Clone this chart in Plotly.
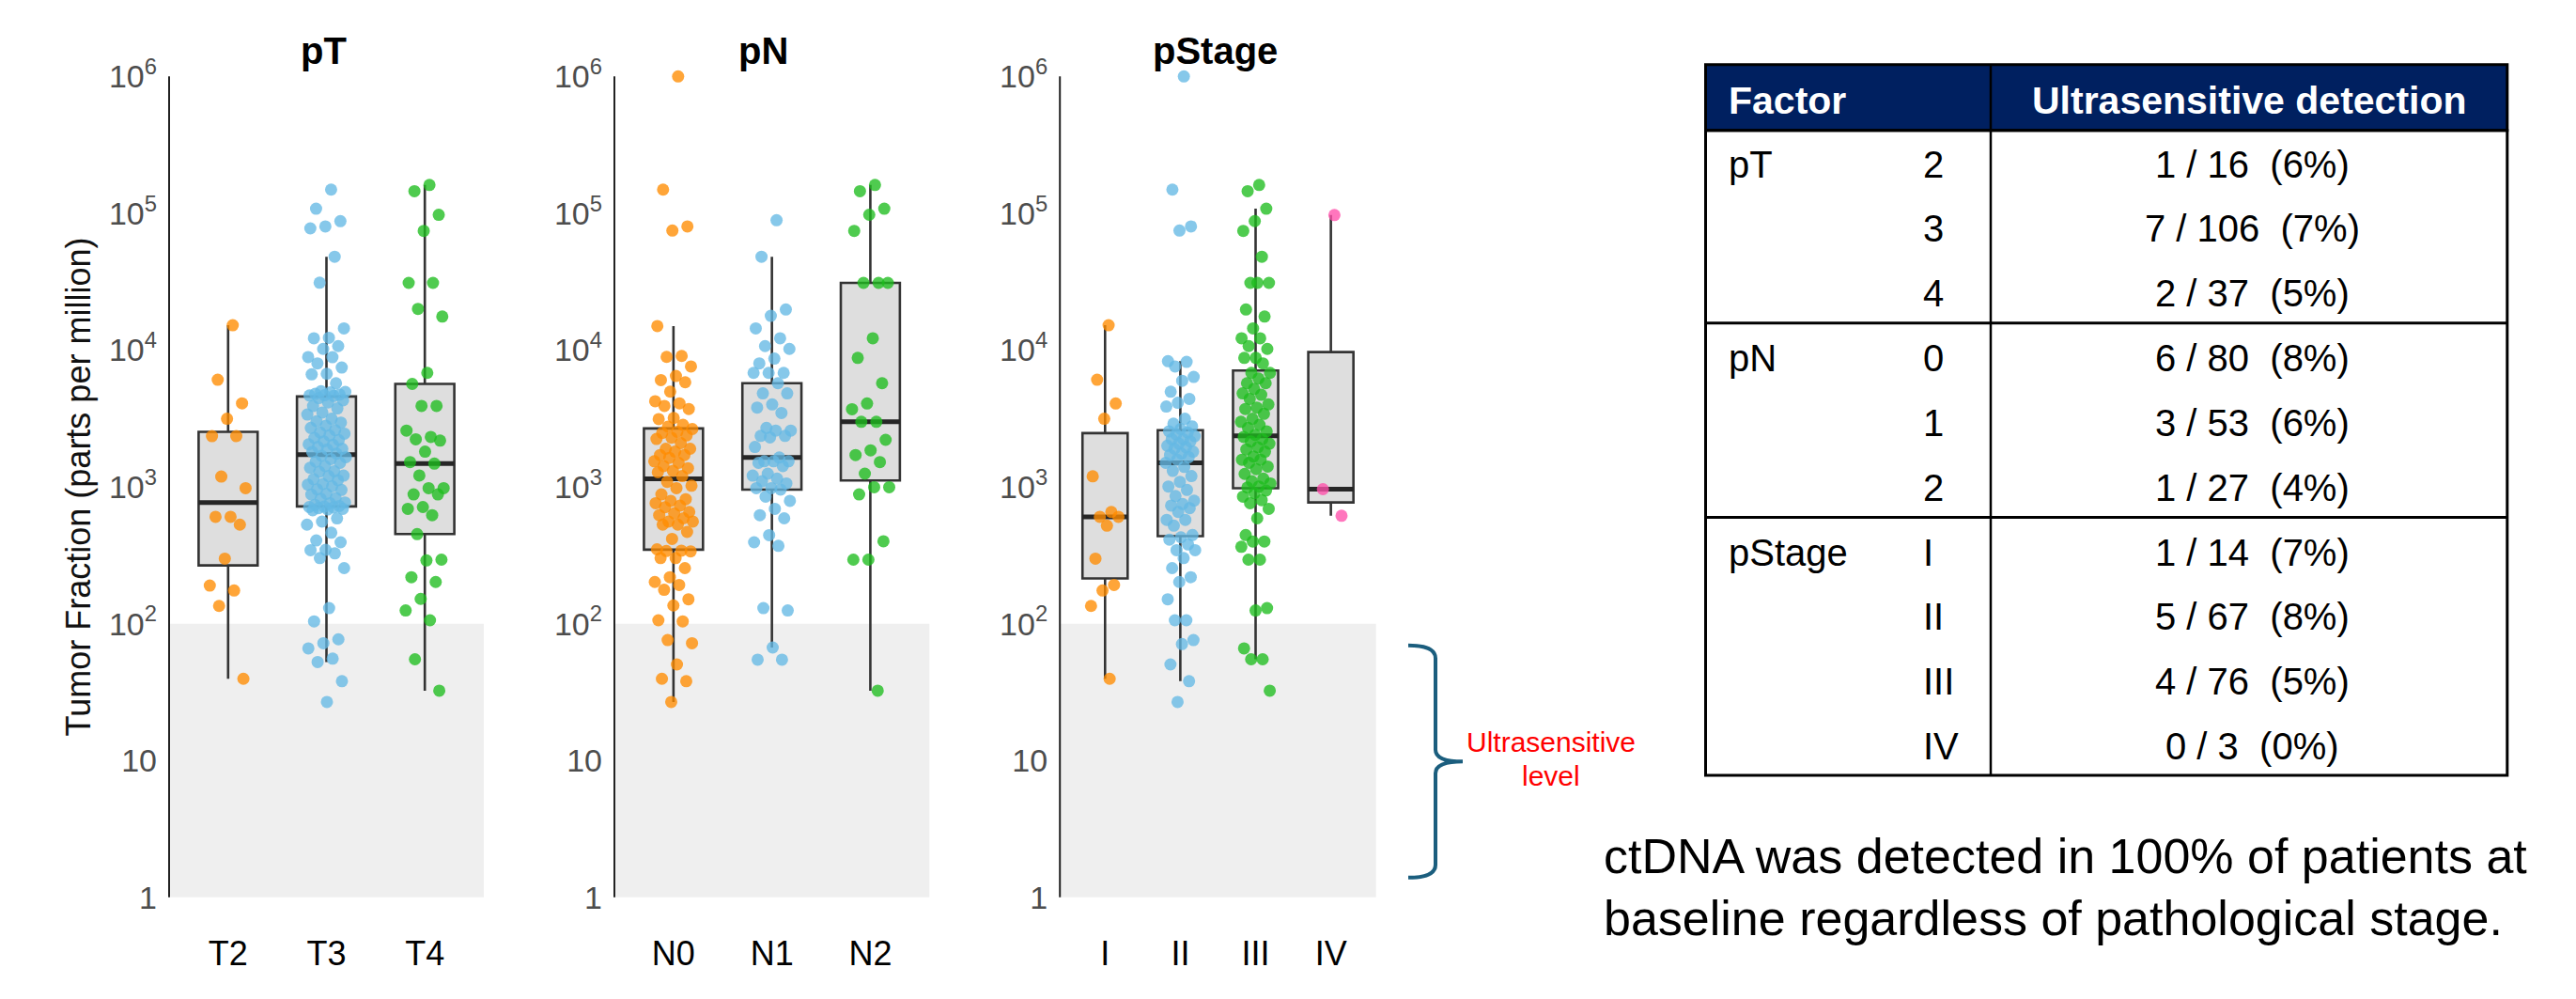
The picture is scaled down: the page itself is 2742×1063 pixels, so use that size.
import numpy as np
import plotly.graph_objects as go

W, H = 2742, 1063

# ---------------- data (tumor fraction, parts per million) ----------------
pt_labels = ["T2", "T3", "T4"]
pn_labels = ["N0", "N1", "N2"]
ps_labels = ["I", "II", "III", "IV"]

T2 = [15200, 6070, 4080, 3150, 2350, 2350, 1190, 980, 605, 605, 530, 299, 190, 175, 135, 39.6]
T3 = [149000, 108000, 87600, 80100, 77600, 48100, 31100, 14400, 12300, 12200, 10700, 10200, 8900, 8870,
      8000, 7460, 6710, 6650, 5730, 5010, 4950, 4900, 4790, 4730, 4680, 4660, 4620,
      4460, 4300, 4150, 3900, 3750, 3500, 3380, 3150, 3020, 2950, 2800, 2700, 2600, 2500, 2450, 2380,
      2280, 2200, 2150, 2050, 2030, 1960, 1900, 1880, 1800, 1750,
      1690, 1650, 1600, 1530, 1500, 1420, 1380, 1300, 1290, 1210, 1200, 1140, 1120, 1050, 1040, 1010,
      960, 950, 890, 880, 830, 820, 770, 760, 740, 725,
      718, 713, 708, 700, 692, 684, 675, 589, 558, 530, 463, 406, 394, 347, 345, 327, 302, 255, 130,
      104, 77, 72, 66, 55.6, 52.5, 38, 26.8]
T4 = [161000, 145000, 97500, 74300, 31000, 31000, 20000, 17600, 6820, 5660, 3910, 3910, 2580, 2320,
      2230, 2180, 1810, 1520, 1480, 1213, 980, 980, 881, 881, 713, 692, 622, 452, 294, 290, 219, 202,
      152, 125, 106, 55, 32.4]

N0 = [1000000, 149000, 80100, 74700, 15000, 9060, 8920, 7590, 6470, 6040, 5820, 4970, 4230, 4080, 3910,
      3710, 3190, 3130, 2840, 2760,
      2650, 2530, 2480, 2380, 2290, 2240, 2090, 1900, 1900, 1810, 1710, 1710, 1630, 1540, 1500, 1420,
      1370, 1310, 1280, 1200,
      1090, 1020, 980, 881, 813, 791, 760, 730, 711, 656, 640, 622, 590, 559, 559, 530, 530, 469, 417, 350,
      342, 340, 338, 302, 302, 255, 219, 202, 192, 177, 151, 136, 106, 104, 76, 72, 50.4, 39.6, 38, 26.8]
N1 = [89000, 48100, 19800, 17800, 14400, 12200, 10700, 10200, 8670, 8000, 6820, 6820, 6820,
      5730, 4830, 4830, 4010, 3800, 3470, 2700, 2580, 2580, 2360, 2360, 2300, 1960, 1640, 1540, 1540,
      1540, 1500, 1420, 1250, 1210, 1150, 1100, 1060, 980, 980, 955,
      850, 791, 692, 622, 590, 444, 394, 371, 130, 125, 67, 54.6, 54.6]
N2 = [161000, 145000, 108000, 97600, 74300, 31000, 31000, 31000, 12200, 8770, 5730, 4070, 3700, 2990,
      2990, 2210, 1850, 1710, 1520, 1250, 995, 995, 881, 401, 294, 294, 32.4]

S1 = [15200, 6070, 4070, 3150, 1195, 656, 605, 605, 521, 299, 192, 175, 135, 39.6]
S2 = [1000000, 149000, 80100, 74700, 8300, 8200, 7590, 6370, 5970, 4960, 4400, 4120, 3870, 3150, 2900,
      2770, 2650,
      2550, 2500, 2420, 2350, 2230, 2230, 2150, 2070, 2000, 1950, 1900, 1810, 1750, 1710, 1650, 1580,
      1500,
      1400, 1310, 1200, 1090, 1007, 950, 857, 793, 750, 731, 700, 656, 574, 574, 521, 445,
      428, 412, 380, 345, 345, 302, 255, 219, 202, 151, 106, 106, 76, 71, 50.4, 38, 26.8]
S3 = [161000, 145000, 108000, 87700, 74300, 48100, 31000, 31000, 31000, 19800, 17600, 14400, 12200,
      12200, 10700, 10200, 8770, 8770, 8000,
      6820, 6820, 6200, 5730, 5730, 5200, 4830, 4710, 4400, 4010, 3800, 3710, 3420, 3150, 2990, 2840,
      2700, 2550, 2400,
      2320, 2230, 2150, 2070, 1950, 1880, 1810, 1670, 1580, 1580, 1500, 1410, 1350, 1245, 1150, 1100,
      1060, 1007, 990,
      940, 900, 850, 800, 760, 692, 590, 445, 399, 399, 365, 294, 294, 130, 125, 66, 55, 55, 32.4]
S4 = [97000, 963, 615]

y_tick_vals = [1, 10, 100, 1000, 10000, 100000, 1000000]
y_tick_text = ["1", "10", "10<sup>2</sup>", "10<sup>3</sup>", "10<sup>4</sup>", "10<sup>5</sup>", "10<sup>6</sup>"]
ultrasensitive_limit = 100

# table
tbl_groups = ["pT", "pN", "pStage"]
tbl_levels = [["2", "3", "4"], ["0", "1", "2"], ["I", "II", "III", "IV"]]
tbl_detected = [[1, 7, 2], [6, 3, 1], [1, 5, 4, 0]]
tbl_total = [[16, 106, 37], [80, 53, 27], [14, 67, 76, 3]]
tbl_pct = [[6, 7, 5], [8, 6, 4], [7, 8, 5, 0]]

panels = [
    dict(title="pT", cats=pt_labels, groups=[T2, T3, T4]),
    dict(title="pN", cats=pn_labels, groups=[N0, N1, N2]),
    dict(title="pStage", cats=ps_labels, groups=[S1, S2, S3, S4]),
]

# ---------------- styling / layout constants ----------------
FONT = "Liberation Sans, Arial, sans-serif"
point_colors = ["rgba(255,140,0,0.78)", "rgba(100,185,228,0.78)",
                "rgba(30,188,30,0.78)", "rgba(255,80,170,0.78)"]
panel_px = [(180.0, 515.0), (654.0, 989.3), (1128.2, 1464.7)]
title_px = [345, 812, 1293.6]
plot_top_px, plot_bot_px = 59.0, 971.45


def px(x):
    return x / W


def py(y):
    return 1 - y / H


def box_stats(vals):
    lv = np.log10(np.asarray(vals, dtype=float))
    q1, med, q3 = np.percentile(lv, [25, 50, 75])
    iqr = q3 - q1
    lo = lv[lv >= q1 - 1.5 * iqr].min()
    hi = lv[lv <= q3 + 1.5 * iqr].max()
    return [10 ** v for v in (q1, med, q3, lo, hi)]


def jitter(n, half=0.2):
    k = np.arange(1, n + 1)
    u = (k * 0.6180339887498949) % 1.0
    return (u - 0.5) * 2 * half


fig = go.Figure()
shapes = []
annotations = []

for p, panel in enumerate(panels):
    xa = "x" if p == 0 else f"x{p + 1}"
    ya = "y" if p == 0 else f"y{p + 1}"
    n = len(panel["cats"])
    for i, vals in enumerate(panel["groups"]):
        q1, med, q3, lo, hi = box_stats(vals)
        fig.add_trace(go.Box(
            x=[i], q1=[q1], median=[med], q3=[q3], lowerfence=[lo], upperfence=[hi],
            width=0.6, fillcolor="#dedede", line=dict(color="#333333", width=2.6),
            whiskerwidth=0, boxpoints=False, xaxis=xa, yaxis=ya, hoverinfo="skip"))
        fig.add_trace(go.Scatter(
            x=[i - 0.3, i + 0.3], y=[med, med], mode="lines",
            line=dict(color="#262626", width=5), xaxis=xa, yaxis=ya, hoverinfo="skip"))
        fig.add_trace(go.Scatter(
            x=i + jitter(len(vals)), y=vals, mode="markers",
            marker=dict(size=13, color=point_colors[i], line=dict(width=0)),
            xaxis=xa, yaxis=ya))

    x0, x1 = panel_px[p]
    fig.layout[("xaxis" if p == 0 else f"xaxis{p + 1}")] = dict(
        domain=[px(x0), px(x1)], range=[-0.6, n - 0.4], tickvals=list(range(n)),
        ticktext=panel["cats"], showgrid=False, zeroline=False, showline=False, ticks="",
        tickfont=dict(size=36, color="black", family=FONT), ticklabelstandoff=26,
        anchor=ya, fixedrange=True)
    fig.layout[("yaxis" if p == 0 else f"yaxis{p + 1}")] = dict(
        domain=[py(plot_bot_px), py(plot_top_px)], type="log", range=[-0.06, 6.06],
        tickvals=y_tick_vals, ticktext=y_tick_text, showgrid=False, zeroline=False,
        showline=False, ticks="", tickfont=dict(size=34, color="#4d4d4d", family=FONT),
        ticklabelstandoff=12, anchor=xa, fixedrange=True)

    shapes.append(dict(type="rect", xref=f"{xa} domain", x0=0, x1=1, yref=ya,
                       y0=1, y1=ultrasensitive_limit, fillcolor="#efefef",
                       line=dict(width=0), layer="below"))
    shapes.append(dict(type="line", xref=f"{xa} domain", x0=0, x1=0, yref=ya,
                       y0=y_tick_vals[0], y1=y_tick_vals[-1],
                       line=dict(color="#222222", width=2), layer="below"))
    annotations.append(dict(text=f"<b>{panel['title']}</b>", x=px(title_px[p]), y=py(40),
                            xref="paper", yref="paper", xanchor="center", yanchor="middle",
                            showarrow=False, font=dict(size=40, color="black", family=FONT)))

# y-axis title
annotations.append(dict(text="Tumor Fraction (parts per million)", x=px(83), y=py(515.5),
                        xref="paper", yref="paper", textangle=-90, xanchor="center",
                        yanchor="middle", showarrow=False,
                        font=dict(size=36, color="#111111", family=FONT)))

# bracket + label
bx0, bx1, btip = 1499, 1528, 1557
by0, bym, by1 = 688, 814.5, 941
pts = [("M", bx0, by0), ("Q", bx1, by0), ("", bx1, by0 + 14), ("L", bx1, bym - 13),
       ("Q", bx1, bym), ("", btip, bym), ("Q", bx1, bym), ("", bx1, bym + 13),
       ("L", bx1, by1 - 14), ("Q", bx1, by1), ("", bx0, by1)]
path = " ".join(f"{c} {px(x):.6f},{py(y):.6f}".strip() for c, x, y in pts)
shapes.append(dict(type="path", path=path, xref="paper", yref="paper",
                   line=dict(color="#1b5e7e", width=4)))
annotations.append(dict(text="Ultrasensitive", x=px(1651), y=py(793), xref="paper", yref="paper",
                        showarrow=False, xanchor="center", yanchor="middle",
                        font=dict(size=30, color="#ff0000", family=FONT)))
annotations.append(dict(text="level", x=px(1651), y=py(830), xref="paper", yref="paper",
                        showarrow=False, xanchor="center", yanchor="middle",
                        font=dict(size=30, color="#ff0000", family=FONT)))

# ---------------- table ----------------
TL, TR, TDIV = 1815.5, 2668.8, 2119.0
HT, HB = 55.0, 126.7
group_tops = [126.7, 336.7, 548.5]
TB = 829.6
row_first = [37.0, 38.5, 38.0]
row_step = 70.3

shapes.append(dict(type="rect", xref="paper", yref="paper", x0=px(TL), x1=px(TR),
                   y0=py(HB), y1=py(HT), fillcolor="#002060", line=dict(color="black", width=3)))
shapes.append(dict(type="rect", xref="paper", yref="paper", x0=px(TL), x1=px(TR),
                   y0=py(TB), y1=py(HB), line=dict(color="black", width=3)))
shapes.append(dict(type="line", xref="paper", yref="paper", x0=px(TDIV), x1=px(TDIV),
                   y0=py(TB), y1=py(HT), line=dict(color="black", width=2.5)))
for gy in group_tops[1:]:
    shapes.append(dict(type="line", xref="paper", yref="paper", x0=px(TL), x1=px(TR),
                       y0=py(gy), y1=py(gy), line=dict(color="black", width=3)))

annotations.append(dict(text="<b>Factor</b>", x=px(1838), y=py(94), xref="paper", yref="paper",
                        xanchor="left", yanchor="middle", showarrow=False,
                        font=dict(size=41, color="white", family=FONT)))
annotations.append(dict(text="<b>Ultrasensitive detection</b>", x=px(2394), y=py(94),
                        xref="paper", yref="paper", xanchor="center", yanchor="middle",
                        showarrow=False, font=dict(size=41, color="white", family=FONT)))

body_font = dict(size=40, color="black", family=FONT)
for g, name in enumerate(tbl_groups):
    y_first = group_tops[g] + row_first[g]
    annotations.append(dict(text=name, x=px(1838), y=py(y_first), xref="paper", yref="paper",
                            xanchor="left", yanchor="middle", showarrow=False, font=body_font))
    for r, lev in enumerate(tbl_levels[g]):
        yy = y_first + r * row_step
        annotations.append(dict(text=lev, x=px(2045), y=py(yy), xref="paper", yref="paper",
                                xanchor="left", yanchor="middle", showarrow=False, font=body_font))
        txt = f"{tbl_detected[g][r]} / {tbl_total[g][r]}\u00a0\u00a0({tbl_pct[g][r]}%)"
        annotations.append(dict(text=txt, x=px(2397), y=py(yy), xref="paper", yref="paper",
                                xanchor="center", yanchor="middle", showarrow=False,
                                font=body_font))

# conclusion text
for line, yy in [("ctDNA was detected in 100% of patients at", 918),
                 ("baseline regardless of pathological stage.", 985)]:
    annotations.append(dict(text=line, x=px(1705), y=py(yy), xref="paper", yref="paper",
                            xanchor="left", yanchor="middle", showarrow=False,
                            font=dict(size=52, color="black", family=FONT)))

fig.update_layout(width=W, height=H, margin=dict(l=0, r=0, t=0, b=0),
                  paper_bgcolor="white", plot_bgcolor="white", showlegend=False,
                  shapes=shapes, annotations=annotations, font=dict(family=FONT))

fig.write_html("out.html", config={"displayModeBar": False},
               post_script="document.body.style.margin='0px';")
